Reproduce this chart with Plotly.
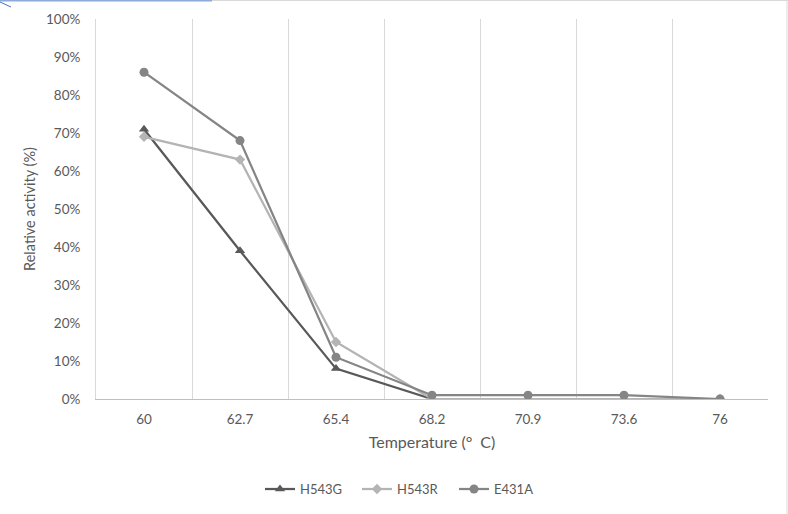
import plotly.graph_objects as go

temps = ["60", "62.7", "65.4", "68.2", "70.9", "73.6", "76"]
h543g = [0.71, 0.39, 0.08, 0.00, 0.00, 0.00, 0.00]
h543r = [0.69, 0.63, 0.15, 0.00, 0.00, 0.00, 0.00]
e431a = [0.86, 0.68, 0.11, 0.01, 0.01, 0.01, 0.00]
y_ticks = [0, 0.1, 0.2, 0.3, 0.4, 0.5, 0.6, 0.7, 0.8, 0.9, 1.0]

FONT = "Lato, Carlito, Calibri, 'Noto Sans', sans-serif"
TXT = "#595959"

fig = go.Figure()
fig.add_trace(go.Scatter(x=temps, y=h543g, name="H543G", mode="lines+markers",
                         line=dict(color="#595959", width=2.25),
                         marker=dict(symbol="triangle-up", size=9, color="#595959")))
fig.add_trace(go.Scatter(x=temps, y=h543r, name="H543R", mode="lines+markers",
                         line=dict(color="#b4b4b4", width=2.25),
                         marker=dict(symbol="diamond", size=8, color="#b4b4b4")))
fig.add_trace(go.Scatter(x=temps, y=e431a, name="E431A", mode="lines+markers",
                         line=dict(color="#858585", width=2.25),
                         marker=dict(symbol="circle", size=9, color="#858585")))

fig.update_layout(
    width=788, height=514,
    margin=dict(l=96, r=20, t=19, b=115, autoexpand=False),
    paper_bgcolor="white", plot_bgcolor="white",
    font=dict(family=FONT, size=13, color=TXT),
    showlegend=True,
    legend=dict(orientation="h", x=(260 - 96) / 672, xanchor="left", y=-0.237, yanchor="middle",
                entrywidth=52, font=dict(size=13, color=TXT), traceorder="normal"),
    xaxis=dict(type="category", range=[-0.5, 6.5], tickson="boundaries", automargin=False,
               showgrid=True, gridcolor="#d9d9d9", gridwidth=1,
               showline=True, linecolor="#bfbfbf", linewidth=1,
               ticks="", ticklabelstandoff=8, tickfont=dict(size=13.5, color=TXT),
               title=dict(text="Temperature (°\u2002C)", standoff=10,
                          font=dict(size=16, color=TXT))),
    yaxis=dict(range=[0, 1], tickvals=y_ticks, tickformat=".0%", automargin=False,
               showgrid=False, zeroline=False,
               showline=True, linecolor="#d9d9d9", linewidth=1,
               ticks="", ticklabelstandoff=12, tickfont=dict(size=13.5, color=TXT),
               title=dict(text="Relative activity (%)", standoff=6,
                          font=dict(size=14.5, color=TXT))),
    shapes=[
        dict(type="line", xref="paper", yref="paper", x0=-96/672, x1=1 + 20/672,
             y0=1 + 18.5/380, y1=1 + 18.5/380, line=dict(color="#d9d9d9", width=1)),
        dict(type="line", xref="paper", yref="paper", x0=-96/672, x1=(212-96)/672,
             y0=1 + 18.5/380, y1=1 + 18.5/380, line=dict(color="#8eaad8", width=2)),
        dict(type="line", xref="paper", yref="paper", x0=-96/672, x1=(11-96)/672,
             y0=1 + 17/380, y1=1 + 12/380, line=dict(color="#4472c4", width=1)),
        dict(type="line", xref="paper", yref="paper", x0=1 + 19/672, x1=1 + 19/672,
             y0=-115/380, y1=1 + 19/380, line=dict(color="#d9d9d9", width=1)),
    ],
)

fig.write_html("out.html")
